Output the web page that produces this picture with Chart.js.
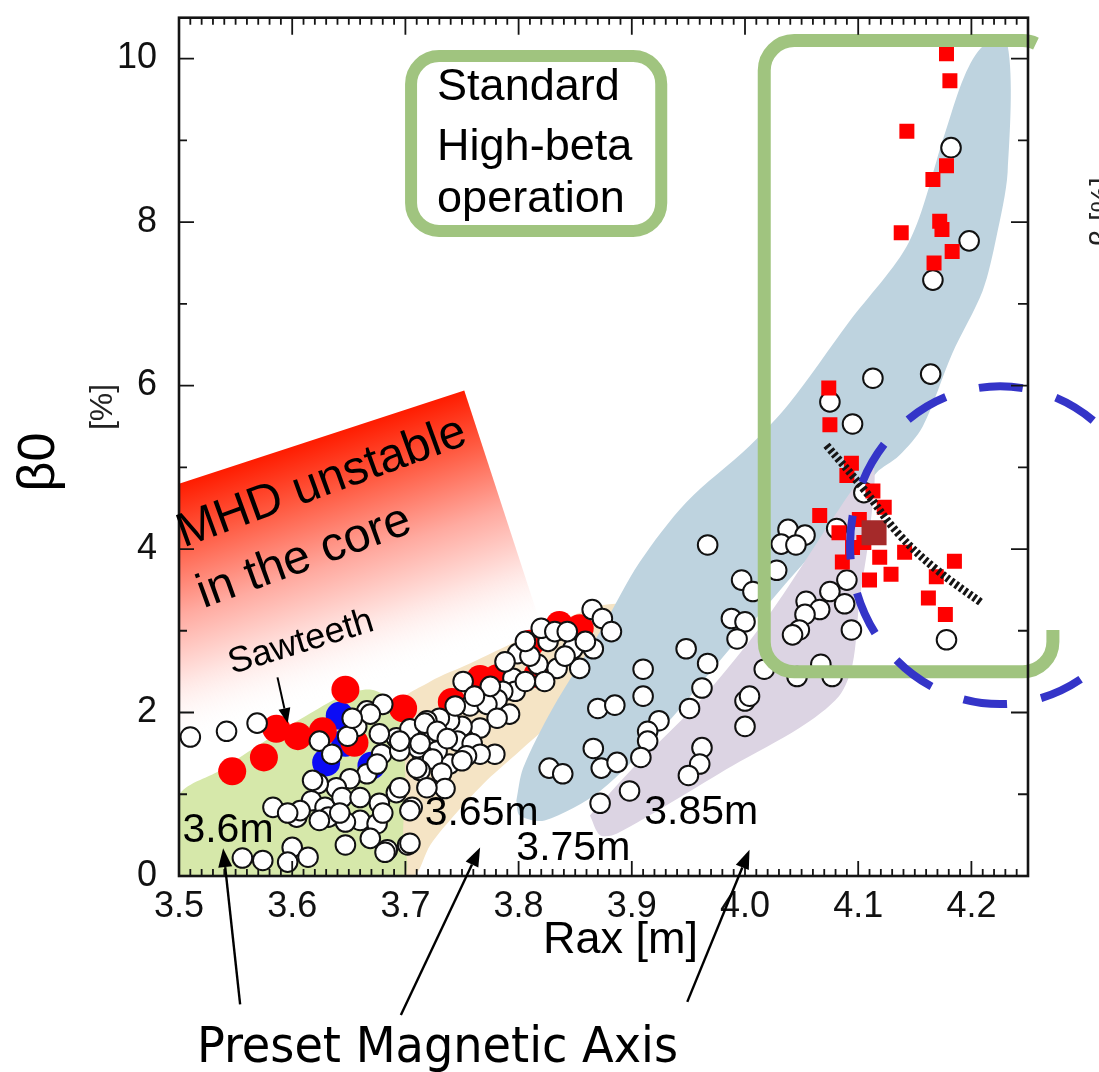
<!DOCTYPE html>
<html>
<head>
<meta charset="utf-8">
<title>Central beta versus magnetic axis position</title>
<script src="https://cdn.jsdelivr.net/npm/chart.js@4.4.1/dist/chart.umd.min.js"></script>
<style>
  html, body { margin: 0; padding: 0; background: #ffffff; }
  #box { width: 1099px; height: 1072px; }
</style>
</head>
<body>
<div id="box"><canvas id="chart" width="1099" height="1072"></canvas></div>
<script>
const SANS = '"Liberation Sans", Arial, Helvetica, sans-serif';

// Axes
const xRange = [3.5, 4.25];
const yRange = [0, 10.5];
const xTickValues = [3.5, 3.6, 3.7, 3.8, 3.9, 4.0, 4.1, 4.2];
const yTickValues = [0, 2, 4, 6, 8, 10];

// Operating bands for each preset magnetic axis (Rax [m], beta0 [%])
const band360 = [[3.5,0],[3.5,0.98],[3.536,1.29],[3.576,1.65],[3.616,1.99],[3.647,2.22],[3.670,2.28],[3.688,2.14],[3.697,1.77],[3.700,1.17],[3.698,0.56],[3.697,0]];
const band365 = [[3.691,0],[3.693,0.92],[3.693,2.08],[3.722,2.38],[3.757,2.60],[3.801,2.89],[3.845,3.17],[3.878,3.32],[3.900,3.29],[3.889,2.90],[3.865,2.47],[3.830,1.90],[3.801,1.53],[3.772,1.17],[3.745,0.77],[3.722,0.38],[3.708,0]];
const band375 = [[3.798,0.92],[3.804,1.32],[3.830,2.05],[3.872,2.99],[3.907,3.84],[3.948,4.57],[4.004,5.26],[4.039,5.78],[4.092,6.78],[4.145,7.76],[4.176,9.06],[4.194,9.79],[4.211,10.16],[4.232,10.16],[4.232,8.61],[4.222,7.81],[4.210,7.16],[4.183,6.39],[4.157,5.50],[4.136,5.14],[4.116,4.93],[4.083,4.33],[4.030,3.48],[3.977,2.62],[3.925,1.77],[3.872,1.04],[3.823,0.68],[3.801,0.74]];
const band385 = [[3.863,0.74],[3.901,1.32],[3.960,2.14],[4.019,3.15],[4.077,4.36],[4.101,4.84],[4.114,4.99],[4.110,4.20],[4.101,3.35],[4.095,2.59],[4.083,2.20],[4.048,1.81],[3.989,1.35],[3.887,0.52],[3.872,0.50]];
const bandNames = ['3.6m', '3.65m', '3.75m', '3.85m'];

// Discharges (Rax [m], beta0 [%])
const normalShots = [
  // high-beta branch
  [4.182,8.91],[4.198,7.77],[4.166,7.29],[4.113,6.09],[4.164,6.14],[4.075,5.80],[4.095,5.53],[4.105,4.69],
  [4.081,4.25],[4.038,4.24],[4.053,4.17],[4.032,4.06],[4.045,4.05],[4.028,3.74],[4.090,3.62],[4.075,3.48],
  [4.054,3.36],[4.066,3.26],[4.088,3.33],[4.053,3.20],[4.048,3.01],[4.042,2.95],[4.094,3.01],[4.178,2.89],
  [4.017,2.53],[4.067,2.59],[4.046,2.44],[4.077,2.44],
  // 3.75m / 3.85m scatter
  [3.967,4.05],[3.997,3.62],[4.007,3.48],[3.988,3.15],[4.000,3.11],[3.993,2.90],[3.948,2.78],[3.967,2.60],
  [3.962,2.30],[3.951,2.05],[3.910,2.53],[3.910,2.20],[3.870,2.05],[3.885,2.09],[3.924,1.90],[3.914,1.77],
  [3.914,1.65],[3.908,1.45],[3.866,1.56],[3.873,1.32],[3.887,1.39],[3.827,1.32],[3.839,1.25],[3.872,0.89],
  [3.898,1.04],[4.000,2.14],[4.004,2.20],[4.000,1.83],[3.962,1.57],[3.960,1.37],[3.950,1.23],
  // 3.65m ridge
  [3.865,3.26],[3.874,3.15],[3.882,2.99],[3.866,2.78],[3.854,2.54],[3.848,2.78],[3.826,2.87],[3.834,2.54],
  [3.817,2.59],[3.799,2.72],[3.810,2.69],[3.820,3.03],[3.832,2.99],[3.795,2.42],[3.797,2.26],[3.786,2.26],
  [3.781,2.16],[3.751,2.38],[3.757,2.08],[3.772,2.10],[3.792,1.98],[3.781,1.93],[3.766,1.81],[3.750,1.83],
  [3.739,1.90],[3.730,1.93],[3.719,1.90],[3.722,1.71],[3.733,1.69],[3.746,1.65],[3.759,1.62],[3.779,1.49],
  [3.766,1.49],[3.754,1.47],[3.739,1.37],[3.728,1.53],[3.715,1.49],[3.806,2.87],[3.841,2.69],[3.859,2.87],
  [3.788,2.62],[3.775,2.32],[3.761,2.20],[3.744,2.08],[3.823,2.38],[3.806,2.38],[3.843,2.99],
  // 3.6m cluster
  [3.666,2.02],[3.657,1.83],[3.649,1.71],[3.680,2.10],[3.624,1.65],[3.635,1.49],[3.679,1.49],[3.692,1.69],
  [3.704,1.80],[3.711,1.57],[3.695,1.53],[3.717,1.87],[3.728,1.77],[3.737,1.68],[3.724,1.43],[3.713,1.29],
  [3.732,1.26],[3.666,1.25],[3.675,1.37],[3.692,1.02],[3.706,0.84],[3.651,1.19],[3.639,1.08],[3.623,1.13],
  [3.617,0.92],[3.629,0.84],[3.644,0.96],[3.660,0.96],[3.677,0.89],[3.660,0.68],[3.647,0.66],[3.632,0.72],
  [3.604,0.72],[3.583,0.84],[3.735,1.07],[3.719,1.08],[3.669,1.98],[3.653,1.93],[3.677,1.74],[3.695,1.65],
  [3.713,1.62],[3.750,1.41],[3.710,1.32],[3.695,1.08],[3.618,1.17],[3.642,0.77],[3.675,0.64],[3.624,0.68],
  [3.607,0.80],[3.596,0.77],[3.702,0.38],[3.684,0.32],[3.669,0.46],[3.680,0.77],[3.704,0.80],
  [3.510,1.70],[3.542,1.77],[3.569,1.87],[3.556,0.22],[3.574,0.19],[3.600,0.35],[3.596,0.17],[3.614,0.23],
  [3.647,0.38],[3.682,0.29],[3.704,0.40]
];
const sawtoothShots = [
  [3.547,1.28],[3.575,1.45],[3.586,1.80],[3.605,1.71],[3.627,1.77],[3.655,1.63],[3.647,2.28],[3.698,2.05],
  [3.741,2.13],[3.766,2.41],[3.781,2.42],[3.810,2.84],[3.817,2.47],[3.836,3.07],[3.854,3.03]
];
const coreModeShots = [[3.642,1.96],[3.630,1.39],[3.647,1.63],[3.670,1.35]];
const highBetaShots = [
  [4.178,10.06],[4.181,9.73],[4.143,9.11],[4.178,8.69],[4.166,8.52],[4.172,8.01],[4.174,7.91],[4.138,7.87],
  [4.183,7.64],[4.167,7.50],[4.074,5.97],[4.075,5.52],[4.094,5.05],[4.090,4.90],[4.113,4.71],[4.123,4.51],
  [4.066,4.41],[4.101,4.36],[4.083,4.20],[4.086,3.84],[4.095,4.02],[4.105,4.08],[4.119,3.90],[4.141,3.96],
  [4.185,3.85],[4.129,3.69],[4.110,3.62],[4.169,3.66],[4.162,3.40],[4.177,3.20]
];
const referenceShot = [[4.114,4.20]];
const trendLine = [[4.072,5.27],[4.105,4.73],[4.136,4.18],[4.169,3.75],[4.210,3.33]];

// Annotation geometry in axis units
const unstableEdge = [[3.5,4.80],[3.752,5.94]];
const standardBox = {x0:3.705, x1:3.926, y0:7.89, y1:10.03};
const highBetaBox = {x0:4.017, x1:4.272, y0:2.50, y1:10.22, yOpen:3.01};
const focusRing = {cx:4.2253, cy:4.047, rx:0.1325, ry:1.944};

const toXY = arr => arr.map(([x, y]) => ({x, y}));

function bandSet(points, color, order) {
  return {
    type: 'line', data: toXY([...points, points[0]]), fill: 'shape',
    backgroundColor: color, borderColor: 'rgba(0,0,0,0)', borderWidth: 0,
    pointRadius: 0, tension: 0.3, order
  };
}

function pxOf(chart, x, y) {
  return [chart.scales.x.getPixelForValue(x), chart.scales.y.getPixelForValue(y)];
}

function drawUnstableZone(chart) {
  const {ctx, chartArea: a} = chart;
  const p = pxOf(chart, ...unstableEdge[0]);
  const q = pxOf(chart, ...unstableEdge[1]);
  const dx = q[0] - p[0], dy = q[1] - p[1], len = Math.hypot(dx, dy);
  const ux = dx / len, uy = dy / len, nx = -uy, ny = ux;
  const depth = 250;
  const s = [p[0] - ux * 200, p[1] - uy * 200];
  ctx.save();
  ctx.beginPath();
  ctx.rect(a.left, a.top, a.right - a.left, a.bottom - a.top);
  ctx.clip();
  const g = ctx.createLinearGradient(p[0], p[1], p[0] + nx * depth, p[1] + ny * depth);
  g.addColorStop(0, 'rgb(255,28,0)');
  g.addColorStop(0.22, 'rgb(255,90,65)');
  g.addColorStop(0.5, 'rgb(255,170,160)');
  g.addColorStop(0.75, 'rgb(255,228,225)');
  g.addColorStop(1, 'rgba(255,255,255,0)');
  ctx.fillStyle = g;
  ctx.beginPath();
  ctx.moveTo(s[0], s[1]);
  ctx.lineTo(q[0], q[1]);
  ctx.lineTo(q[0] + nx * depth, q[1] + ny * depth);
  ctx.lineTo(s[0] + nx * depth, s[1] + ny * depth);
  ctx.closePath();
  ctx.fill();
  ctx.restore();
}

function drawHighlights(chart) {
  const {ctx} = chart;
  const green = 'rgb(160,196,127)';
  ctx.save();
  ctx.strokeStyle = green;
  ctx.lineJoin = 'round';

  // small caption box
  let [l, t] = pxOf(chart, standardBox.x0, standardBox.y1);
  let [r, b] = pxOf(chart, standardBox.x1, standardBox.y0);
  ctx.lineWidth = 12;
  ctx.beginPath();
  ctx.roundRect(l, t, r - l, b - t, 28);
  ctx.stroke();

  // high-beta operating window (open on its right side)
  [l, t] = pxOf(chart, highBetaBox.x0, highBetaBox.y1);
  [r, b] = pxOf(chart, highBetaBox.x1, highBetaBox.y0);
  const open = chart.scales.y.getPixelForValue(highBetaBox.yOpen);
  const rad = 30;
  ctx.lineWidth = 13;
  ctx.beginPath();
  ctx.moveTo(r, open);
  ctx.arcTo(r, b, r - rad, b, rad);
  ctx.arcTo(l, b, l, b - rad, rad);
  ctx.arcTo(l, t, l + rad, t, rad);
  ctx.lineTo(r - rad, t);
  ctx.arc(r - rad, t + rad, rad, -Math.PI / 2, -Math.PI / 2 + 0.45);
  ctx.stroke();

  // dashed ring around the saturated region
  const [cx, cy] = pxOf(chart, focusRing.cx, focusRing.cy);
  const rx = Math.abs(chart.scales.x.getPixelForValue(focusRing.cx + focusRing.rx) - cx);
  const ry = Math.abs(chart.scales.y.getPixelForValue(focusRing.cy + focusRing.ry) - cy);
  ctx.strokeStyle = 'rgb(52,52,200)';
  ctx.lineWidth = 8;
  ctx.setLineDash([44, 34.5]);
  ctx.lineDashOffset = 0;
  ctx.beginPath();
  ctx.ellipse(cx, cy, rx, ry, 0, 0, Math.PI * 2);
  ctx.stroke();
  ctx.restore();
}

function drawFrame(chart) {
  const {ctx, chartArea: a, scales: {x, y}} = chart;
  ctx.save();
  ctx.strokeStyle = '#141414';
  ctx.lineWidth = 1.8;
  ctx.beginPath();
  const steps = Math.round((xRange[1] - xRange[0]) * 100);
  for (let i = 0; i <= steps; i++) {
    const px = x.getPixelForValue(xRange[0] + i / 100);
    const major = i % 10 === 0;
    ctx.moveTo(px, a.bottom); ctx.lineTo(px, a.bottom - (major ? 15 : 7));
    ctx.moveTo(px, a.top); ctx.lineTo(px, a.top + (major ? 17 : 7));
  }
  for (let v = 0; v <= 10; v++) {
    const py = y.getPixelForValue(v);
    const major = v % 2 === 0;
    ctx.moveTo(a.left, py); ctx.lineTo(a.left + (major ? 15 : 8), py);
    ctx.moveTo(a.right, py); ctx.lineTo(a.right - (major ? 17 : 10), py);
  }
  ctx.stroke();
  ctx.lineWidth = 2.6;
  ctx.strokeRect(a.left, a.top, a.right - a.left, a.bottom - a.top);
  ctx.restore();
}

function arrow(ctx, from, to, lw, head, half) {
  const ang = Math.atan2(to[1] - from[1], to[0] - from[0]);
  const bx = to[0] - head * Math.cos(ang), by = to[1] - head * Math.sin(ang);
  ctx.lineWidth = lw;
  ctx.beginPath(); ctx.moveTo(from[0], from[1]); ctx.lineTo(bx, by); ctx.stroke();
  ctx.beginPath();
  ctx.moveTo(to[0], to[1]);
  ctx.lineTo(bx + half * Math.sin(ang), by - half * Math.cos(ang));
  ctx.lineTo(bx - half * Math.sin(ang), by + half * Math.cos(ang));
  ctx.closePath(); ctx.fill();
}

function text(ctx, s, x, y, font, deg = 0, align = 'left', base = 'alphabetic') {
  ctx.save();
  ctx.translate(x, y);
  if (deg) ctx.rotate(deg * Math.PI / 180);
  ctx.font = font; ctx.textAlign = align; ctx.textBaseline = base;
  ctx.fillText(s, 0, 0);
  ctx.restore();
}

function drawNotes(chart) {
  const {ctx} = chart;
  const P = (x, y) => pxOf(chart, x, y);
  ctx.save();
  ctx.fillStyle = '#000'; ctx.strokeStyle = '#000';

  // band captions
  const capFont = '41px ' + SANS;
  [[3.503,0.41],[3.717,0.62],[3.798,0.19],[3.911,0.64]].forEach(([x, y], i) => {
    const [px, py] = P(x, y); text(ctx, bandNames[i], px, py, capFont);
  });

  // unstable region note
  let [px, py] = P(3.504, 4.02);
  ctx.save(); ctx.translate(px, py); ctx.rotate(-20 * Math.PI / 180);
  ctx.font = '48px ' + SANS; ctx.textBaseline = 'alphabetic';
  ctx.fillText('MHD unstable', 0, 0);
  ctx.fillText('in the core', -2, 64);
  ctx.restore();

  [px, py] = P(3.547, 2.47);
  text(ctx, 'Sawteeth', px, py, '36px ' + SANS, -17);
  arrow(ctx, P(3.587, 2.43), P(3.596, 1.87), 2, 15, 6);

  // caption box text
  const sFont = '45px ' + SANS;
  [['Standard', 9.49], ['High-beta', 8.76], ['operation', 8.12]].forEach(([s, y]) => {
    const [qx, qy] = P(3.728, y); text(ctx, s, qx, qy, sFont);
  });

  // axis titles
  text(ctx, 'Rax [m]', 543, 953, '45px ' + SANS);
  text(ctx, '\u03B20', 40, 462, '52px ' + SANS, -90, 'center', 'middle');
  ctx.fillStyle = '#222';
  text(ctx, '[%]', 103, 407, '32px ' + SANS, -90, 'center', 'middle');
  text(ctx, '\u03B2 [%]', 1111, 212, '30px ' + SANS, -90, 'center', 'alphabetic');
  ctx.fillStyle = '#000';

  // preset axis caption with pointers
  ctx.save();
  ctx.font = '50px "DejaVu Sans Condensed", "DejaVu Sans", sans-serif';
  const w = ctx.measureText('Preset Magnetic Axis').width;
  ctx.translate(197, 1062); ctx.scale(481 / w, 1);
  ctx.textBaseline = 'alphabetic';
  ctx.fillText('Preset Magnetic Axis', 0, 0);
  ctx.restore();
  arrow(ctx, P(3.554, -1.57), P(3.539, 0.34), 2.4, 19, 7);
  arrow(ctx, P(3.696, -1.70), P(3.766, 0.35), 2.4, 19, 7);
  arrow(ctx, P(3.949, -1.54), P(4.004, 0.32), 2.4, 19, 7);
  ctx.restore();
}

const decor = {
  id: 'decor',
  beforeDatasetsDraw(chart) { drawUnstableZone(chart); },
  afterDatasetsDraw(chart) { drawHighlights(chart); drawFrame(chart); drawNotes(chart); }
};

new Chart(document.getElementById('chart'), {
  type: 'scatter',
  data: {
    datasets: [
      bandSet(band365, 'rgb(245,228,197)', 20),
      bandSet(band360, 'rgb(214,232,170)', 19),
      bandSet(band375, 'rgb(190,211,223)', 18),
      bandSet(band385, 'rgb(220,212,227)', 17),
      { data: toXY(coreModeShots), pointRadius: 14, borderWidth: 0, backgroundColor: 'rgb(12,12,245)', order: 8 },
      { data: toXY(sawtoothShots), pointRadius: 14, borderWidth: 0, backgroundColor: 'rgb(255,0,0)', order: 7 },
      { data: toXY(normalShots), pointRadius: 9.8, borderWidth: 2, backgroundColor: '#ffffff', borderColor: '#111111', order: 6 },
      { data: toXY(highBetaShots), pointStyle: 'rect', pointRadius: 10.6, borderWidth: 0, backgroundColor: 'rgb(255,0,0)', order: 4 },
      { data: toXY(referenceShot), pointStyle: 'rect', pointRadius: 17.7, borderWidth: 0, backgroundColor: 'rgb(165,42,42)', order: 3 },
      { type: 'line', data: toXY(trendLine), borderColor: '#151515', borderWidth: 8, borderDash: [3, 2.6],
        tension: 0.4, pointRadius: 0, fill: false, order: 2 }
    ]
  },
  options: {
    responsive: false,
    devicePixelRatio: 1,
    animation: false,
    events: [],
    layout: { padding: { left: 0, top: 12, right: 71, bottom: 0 } },
    plugins: { legend: { display: false }, tooltip: { enabled: false } },
    scales: {
      x: {
        type: 'linear', position: 'bottom', min: xRange[0], max: xRange[1],
        grid: { display: false }, border: { display: false },
        ticks: { font: { family: SANS, size: 36 }, color: '#111', padding: 1, maxRotation: 0, autoSkip: false,
                 callback: v => Number(v).toFixed(1) },
        afterBuildTicks: s => { s.ticks = xTickValues.map(v => ({ value: v })); },
        afterFit: s => { s.height = 196; s.paddingLeft = 0; s.paddingRight = 0; }
      },
      y: {
        type: 'linear', min: yRange[0], max: yRange[1],
        grid: { display: false }, border: { display: false },
        ticks: { font: { family: SANS, size: 36 }, color: '#111', padding: 14, autoSkip: false,
                 callback: v => String(v) },
        afterBuildTicks: s => { s.ticks = yTickValues.map(v => ({ value: v })); },
        afterFit: s => { s.width = 179; s.paddingTop = 0; s.paddingBottom = 0; }
      }
    }
  },
  plugins: [decor]
});
</script>
</body>
</html>
